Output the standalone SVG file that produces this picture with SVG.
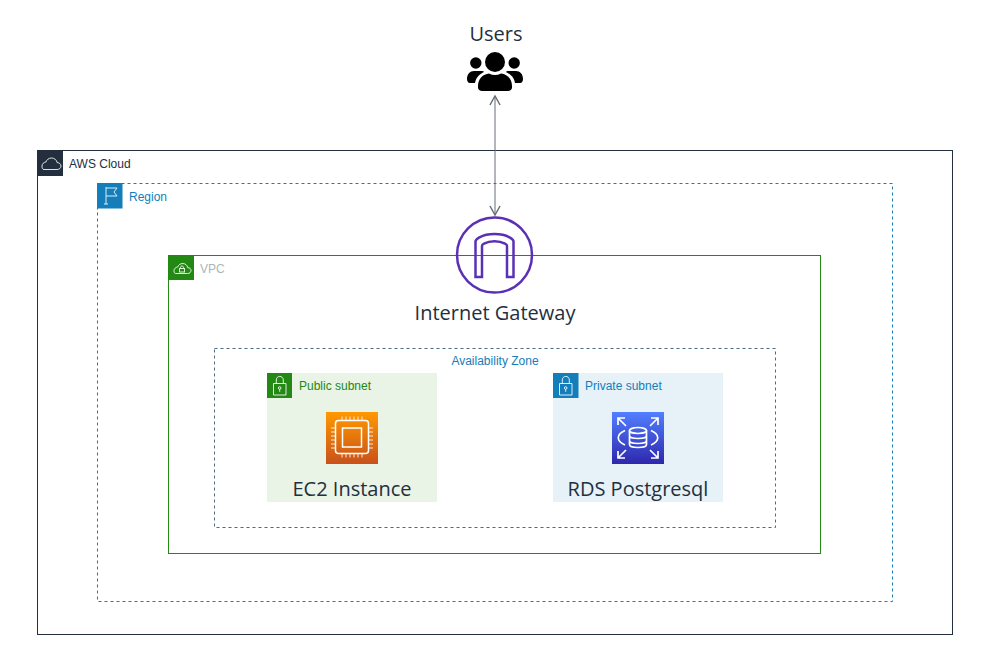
<svg xmlns="http://www.w3.org/2000/svg" width="991" height="668" viewBox="0 0 991 668">
<defs>
<linearGradient id="orange" x1="0" y1="1" x2="0" y2="0"><stop offset="0" stop-color="#c8511b"/><stop offset="1" stop-color="#ff9900"/></linearGradient>
<linearGradient id="blue" x1="0" y1="1" x2="0" y2="0"><stop offset="0" stop-color="#2e27ad"/><stop offset="1" stop-color="#527fff"/></linearGradient>
<marker id="arr" markerUnits="userSpaceOnUse" markerWidth="12" markerHeight="12" refX="8" refY="5" orient="auto-start-reverse" viewBox="0 0 10 10"><path d="M0.5 0.8L8 5L0.5 9.2" fill="none" stroke="#666c75" stroke-width="1.2"/></marker>
</defs>
<style>
text{font-family:"Liberation Sans",Arial,sans-serif;font-size:12px}
.big{font-family:"Open Sans","Noto Sans",sans-serif;font-size:20px;fill:#232f3e}
.ic{fill:none;stroke:#fff;stroke-width:1;stroke-opacity:.85}
.icw{fill:none;stroke:#fff;stroke-width:1.5}
</style>
<rect width="991" height="668" fill="#fff"/>
<g id="aws-cloud">
<rect x="37.500" y="150.500" width="915" height="484" fill="#fff" stroke="#232f3e"/>
<rect x="38" y="150.500" width="25" height="25.500" fill="#232f3e"/>
<path class="ic" d="M44 169.500h13c2.500 0 4-1.600 4-3.500s-1.700-3.500-3.800-3.300c-.5-2.700-2.800-4.700-5.700-4.700-2.700 0-4.800 1.700-5.600 4-2.300.3-3.900 2-3.900 4s.4 3.500 2 3.500z"/>
<text x="69" y="168" fill="#232f3e">AWS Cloud</text>
</g>
<g id="region">
<rect x="97.500" y="183.500" width="795" height="418" fill="none" stroke="#147eba" stroke-dasharray="3 3"/>
<rect x="97" y="183" width="25.500" height="25.500" fill="#147eba"/>
<path class="ic" d="M106 204V187M104 204h4M106 188h11l-3 4 3 4h-11"/>
<text x="129" y="201" fill="#147eba">Region</text>
</g>
<g id="vpc">
<rect x="168.500" y="255.500" width="652" height="298" fill="none" stroke="#248814"/>
<rect x="169" y="255" width="25" height="25" fill="#248814"/>
<path class="ic" d="M175.500 273.500h12c2.200 0 3.500-1.300 3.500-3s-1.500-3-3.200-2.800c-.5-2.500-2.500-4.200-5.100-4.200-2.400 0-4.300 1.500-5 3.500-2 .3-3.700 1.700-3.700 3.500 0 1.800 .6 3 1.500 3z"/>
<rect class="ic" x="179.500" y="268.500" width="5" height="3.500"/>
<path class="ic" d="M180.500 268.500v-1c0-2 3-2 3 0v1"/>
<text x="200" y="273" fill="#aab7b8">VPC</text>
</g>
<g id="availability-zone">
<rect x="214.500" y="348.500" width="561" height="179" fill="none" stroke="#4d6a80" stroke-dasharray="3 3"/>
<text x="495" y="365" text-anchor="middle" fill="#147eba">Availability Zone</text>
</g>
<g id="public-subnet">
<rect x="267" y="373" width="170" height="129" fill="#e9f3e6"/>
<rect x="267" y="373" width="25" height="25" fill="#248814"/>
<path class="ic" d="M273.500 383.500h12.500v11.500h-12.500zM276.300 383.500v-3.500c0-4.800 7-4.800 7 0v3.500"/>
<circle class="ic" cx="279.700" cy="388" r="1.300"/><path class="ic" d="M279.700 389.300v2.500"/>
<text x="299" y="390" fill="#248814">Public subnet</text>
</g>
<g id="private-subnet">
<rect x="553" y="373" width="170" height="129" fill="#e6f2f8"/>
<rect x="553" y="373" width="25.500" height="25" fill="#147eba"/>
<path class="ic" d="M559.500 383.500h12.500v11.500h-12.500zM562.300 383.500v-3.500c0-4.800 7-4.800 7 0v3.500"/>
<circle class="ic" cx="565.700" cy="388" r="1.300"/><path class="ic" d="M565.700 389.300v2.500"/>
<text x="585" y="390" fill="#147eba">Private subnet</text>
</g>
<g id="ec2-instance">
<rect x="326" y="412" width="52" height="52" fill="url(#orange)"/>
<rect class="icw" x="335.500" y="420.500" width="33" height="33" rx="3"/>
<rect class="icw" x="342.500" y="428" width="19" height="19"/>
<path class="ic" d="M342 416.500v4M346 416.500v4M350 416.500v4M354 416.500v4M358 416.500v4M362 416.500v4M342 453.500v4M346 453.500v4M350 453.500v4M354 453.500v4M358 453.500v4M362 453.500v4M331 428h4.500M331 432h4.500M331 436h4.500M331 440h4.500M331 444h4.500M331 448h4.500M368.500 428h4.500M368.500 432h4.500M368.500 436h4.500M368.500 440h4.500M368.500 444h4.500M368.500 448h4.500"/>
<text class="big" x="352" y="496" text-anchor="middle">EC2 Instance</text>
</g>
<g id="rds-postgresql">
<rect x="612" y="412" width="52" height="52" fill="url(#blue)"/>
<g class="icw" style="stroke-width:1.700">
<ellipse cx="638" cy="430.500" rx="8.500" ry="3"/>
<path d="M629.500 430.500v14c0 4 17 4 17 0v-14M629.500 435.500c0 4 17 4 17 0M629.500 440.500c0 4 17 4 17 0"/>
<path d="M625 430.500c-9 4-9 10.500 0 14.500M651 430.500c9 4 9 10.500 0 14.500"/>
<path d="M618 418l8 8M618 425v-7h7M658 418l-8 8M658 425v-7h-7M618 458l8-8M618 451v7h7M658 458l-8-8M658 451v7h-7"/>
</g>
<text class="big" x="638" y="496" text-anchor="middle">RDS Postgresql</text>
</g>
<g id="connectors">
<path d="M495 96V215" fill="none" stroke="#666c75" stroke-width="1" marker-start="url(#arr)" marker-end="url(#arr)"/>
</g>
<g id="internet-gateway">
<circle cx="494.500" cy="255" r="37.500" fill="none" stroke="#5a30b5" stroke-width="2.500"/>
<path d="M475.500 277V241.500c0-2 2-3 4-4.200 8-4.300 22-4.300 30 0 2 1.200 4 2.200 4 4.200V277H507V246c0-1-1-1.800-2-2.300-6-3.300-15-3.300-21 0-1 .5-2 1.300-2 2.300V277z" fill="none" stroke="#5a30b5" stroke-width="2.500"/>
<text class="big" x="495" y="320" text-anchor="middle">Internet Gateway</text>
</g>
<g id="users">
<text class="big" x="496" y="41" text-anchor="middle">Users</text>
<circle cx="495" cy="62" r="10" fill="#000"/>
<circle cx="475.800" cy="63" r="5.700" fill="#000"/>
<circle cx="514.200" cy="63" r="5.700" fill="#000"/>
<path d="M467 79c0-5 3-8 7-8h7c2 0 3 .5 3 1-4 2-8 5-9 11h-5c-2 0-3-2-3-4zM523 79c0-5-3-8-7-8h-7c-2 0-3 .5-3 1 4 2 8 5 9 11h5c2 0 3-2 3-4z" fill="#000"/>
<path d="M478 86c0-7 5-12 11-12.500 4 2 8 2 12 0 6 .5 11 5.500 11 12.500v1.500c0 2-2 3.500-4 3.500h-26c-2 0-4-1.500-4-3.500z" fill="#000"/>
</g>
</svg>
